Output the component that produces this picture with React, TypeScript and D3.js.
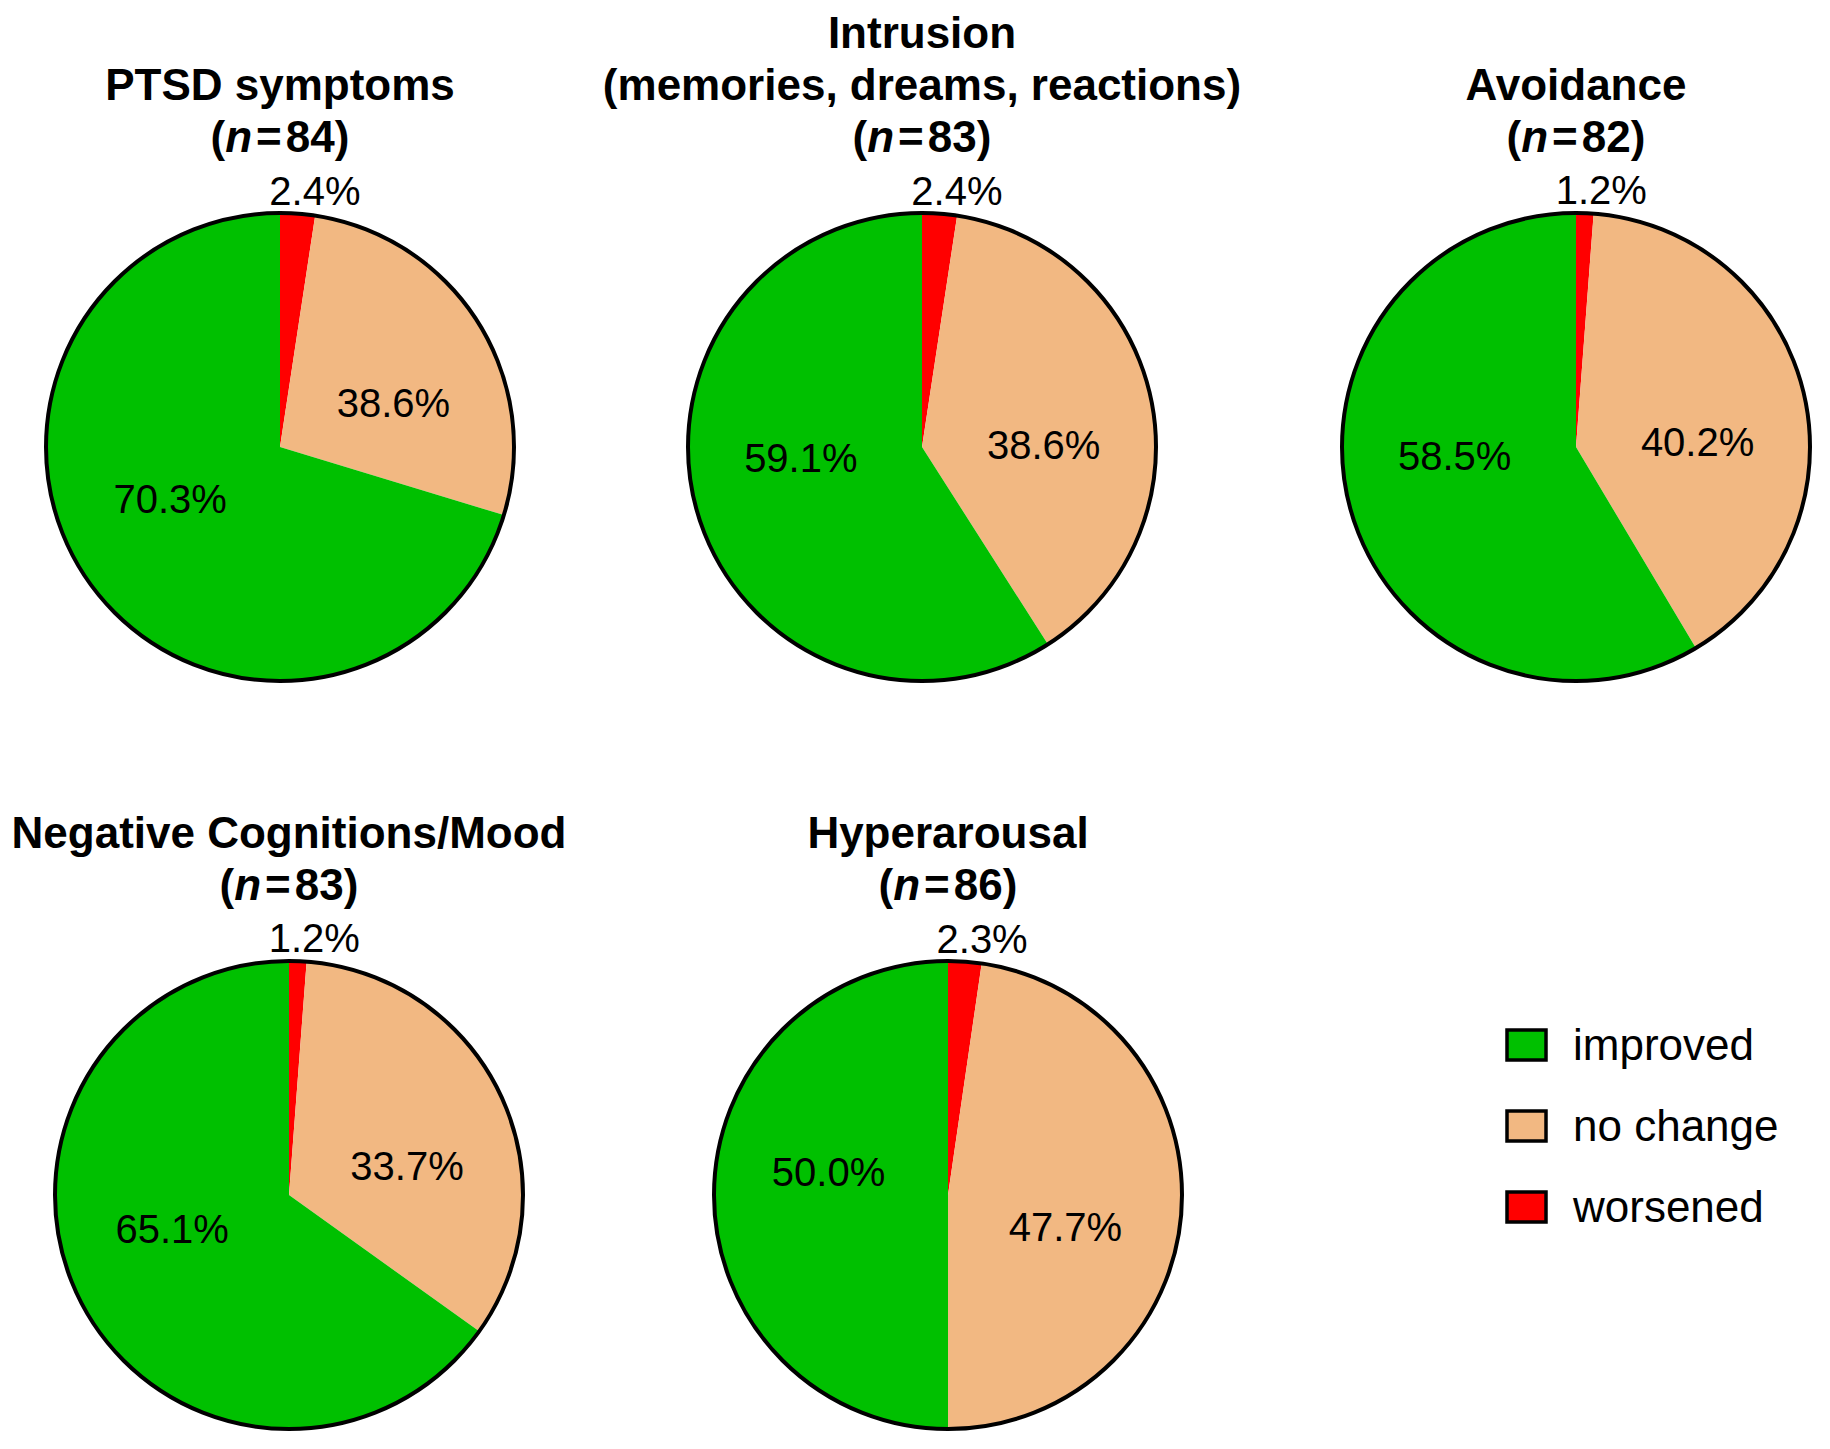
import React from "react";
import * as d3 from "d3";

// ---- data ----
const panelTitles: string[][] = [
  ["PTSD symptoms"],
  ["Intrusion", "(memories, dreams, reactions)"],
  ["Avoidance"],
  ["Negative Cognitions/Mood"],
  ["Hyperarousal"],
];
const sampleSizes = [84, 83, 82, 83, 86];
const categories = ["worsened", "no change", "improved"];
const worsened = [2.4, 2.4, 1.2, 1.2, 2.3];
const noChange = [27.3, 38.6, 40.2, 33.7, 47.7];
const improved = [70.3, 59.1, 58.5, 65.1, 50.0];
const worsenedLabels = ["2.4%", "2.4%", "1.2%", "1.2%", "2.3%"];
const noChangeLabels = ["38.6%", "38.6%", "40.2%", "33.7%", "47.7%"];
const improvedLabels = ["70.3%", "59.1%", "58.5%", "65.1%", "50.0%"];
const legendItems = ["improved", "no change", "worsened"];

// ---- layout / style ----
const W = 1830;
const H = 1449;
const R = 234;
const panelCenters: [number, number][] = [
  [280, 447],
  [922, 447],
  [1576, 447],
  [289, 1195],
  [948, 1195],
];
const colors: Record<string, string> = {
  worsened: "#FF0000",
  "no change": "#F2B882",
  improved: "#00C000",
};
const FONT = "'Liberation Sans', Arial, Helvetica, sans-serif";

export default function App() {
  const pie = d3
    .pie<{ cat: string; v: number; label: string }>()
    .sort(null)
    .value((d) => d.v)
    .startAngle(0)
    .endAngle(2 * Math.PI);
  const arc = d3
    .arc<d3.PieArcDatum<{ cat: string; v: number; label: string }>>()
    .innerRadius(0)
    .outerRadius(R);

  const legendY = d3
    .scalePoint<string>()
    .domain(legendItems)
    .range([1045, 1207]);

  return (
    <svg
      width={W}
      height={H}
      style={{ position: "absolute", left: 0, top: 0, background: "#fff" }}
      fontFamily={FONT}
    >
      <rect x={0} y={0} width={W} height={H} fill="#fff" />
      {panelTitles.map((title, i) => {
        const [cx, cy] = panelCenters[i];
        const data = [
          { cat: categories[0], v: worsened[i], label: worsenedLabels[i] },
          { cat: categories[1], v: noChange[i], label: noChangeLabels[i] },
          { cat: categories[2], v: improved[i], label: improvedLabels[i] },
        ];
        const arcs = pie(data);
        const lines = title.length + 1;
        const lastBaseline = cy - 295;
        return (
          <g key={i}>
            {title.map((t, k) => (
              <text
                key={k}
                x={cx}
                y={lastBaseline - (lines - 1 - k) * 52}
                textAnchor="middle"
                fontSize={44}
                fontWeight="bold"
                fill="#000"
              >
                {t}
              </text>
            ))}
            <text
              x={cx}
              y={lastBaseline}
              textAnchor="middle"
              fontSize={44}
              fontWeight="bold"
              fill="#000"
            >
              (<tspan fontStyle="italic">n</tspan>
              <tspan dx={4}>=</tspan>
              <tspan dx={4}>{sampleSizes[i]}</tspan>)
            </text>
            <g transform={`translate(${cx},${cy})`}>
              {arcs.map((a, k) => (
                <path key={k} d={arc(a) || ""} fill={colors[a.data.cat]} stroke="none" />
              ))}
              <circle r={R} fill="none" stroke="#000" strokeWidth={4} />
              {arcs.map((a, k) => {
                const mid = (a.startAngle + a.endAngle) / 2;
                let ang: number;
                let rr: number;
                if (a.data.cat === "worsened") {
                  ang = mid + 0.06;
                  rr = R * 1.105;
                } else {
                  ang = mid + (11 * Math.PI) / 180;
                  rr = R * 0.52;
                }
                const x = Math.sin(ang) * rr;
                const y = -Math.cos(ang) * rr;
                return (
                  <text
                    key={"l" + k}
                    x={x}
                    y={y + 14}
                    textAnchor="middle"
                    fontSize={40}
                    fill="#000"
                  >
                    {a.data.label}
                  </text>
                );
              })}
            </g>
          </g>
        );
      })}
      {legendItems.map((it) => {
        const y = legendY(it) as number;
        return (
          <g key={it}>
            <rect
              x={1507}
              y={y - 15}
              width={39}
              height={30}
              fill={colors[it]}
              stroke="#000"
              strokeWidth={3.5}
            />
            <text x={1573} y={y + 15} fontSize={44} fill="#000">
              {it}
            </text>
          </g>
        );
      })}
    </svg>
  );
}
